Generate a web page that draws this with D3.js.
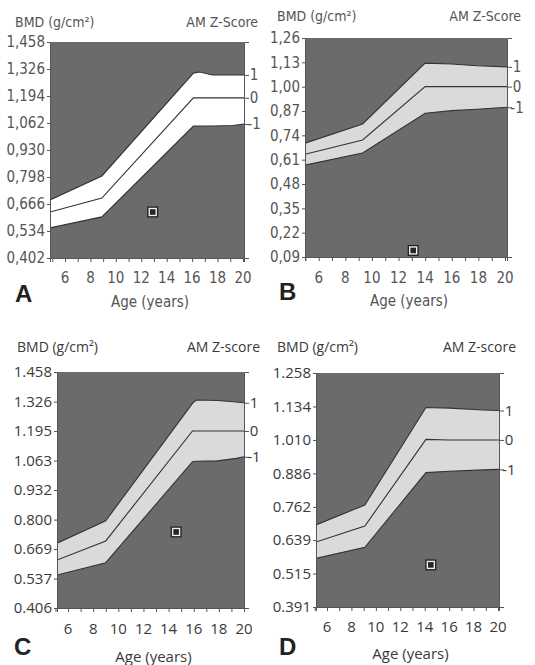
<!DOCTYPE html>
<html>
<head>
<meta charset="utf-8">
<script src="https://cdn.jsdelivr.net/npm/d3@7"></script>
<style>
  body { margin: 0; background: #fff; }
</style>
</head>
<body>
<div id="chart"></div>
<script>
// ---- data ----
var agesA  = [4.82, 8.9, 16.1, 16.6, 17.6, 19.2, 20.08];
var plusA  = [0.686, 0.803, 1.306, 1.311, 1.297, 1.297, 1.297];
var meanA  = [0.627, 0.695, 1.185, 1.185, 1.185, 1.185, 1.185];
var minusA = [0.549, 0.603, 1.047, 1.047, 1.047, 1.050, 1.057];
var yTicksA = [0.402, 0.534, 0.666, 0.798, 0.930, 1.062, 1.194, 1.326, 1.458];
var patientA = [12.9, 0.627];

var agesB  = [4.97, 9.3, 14.0, 16.0, 17.9, 20.15];
var plusB  = [0.698, 0.801, 1.126, 1.121, 1.112, 1.106];
var meanB  = [0.639, 0.715, 1.000, 1.000, 1.000, 1.000];
var minusB = [0.581, 0.646, 0.858, 0.872, 0.879, 0.890];
var yTicksB = [0.09, 0.22, 0.35, 0.48, 0.61, 0.74, 0.87, 1.00, 1.13, 1.26];
var patientB = [13.1, 0.125];

var agesC  = [5.12, 9.0, 15.9, 16.2, 17.9, 19.4, 20.0];
var plusC  = [0.695, 0.795, 1.318, 1.333, 1.331, 1.324, 1.321];
var meanC  = [0.620, 0.705, 1.195, 1.195, 1.195, 1.195, 1.195];
var minusC = [0.553, 0.608, 1.058, 1.060, 1.062, 1.073, 1.080];
var yTicksC = [0.406, 0.537, 0.669, 0.800, 0.932, 1.063, 1.195, 1.326, 1.458];
var patientC = [14.6, 0.745];

var agesD  = [5.1, 9.1, 14.1, 16.0, 18.8, 20.08];
var plusD  = [0.695, 0.769, 1.130, 1.128, 1.121, 1.119];
var meanD  = [0.632, 0.691, 1.012, 1.010, 1.010, 1.010];
var minusD = [0.571, 0.612, 0.889, 0.894, 0.899, 0.901];
var yTicksD = [0.391, 0.515, 0.639, 0.762, 0.886, 1.010, 1.134, 1.258];
var patientD = [14.5, 0.547];

var xTicks = [6, 8, 10, 12, 14, 16, 18, 20];
var zLabels = ["1", "0", "-1"];

// ---- styles ----
var oldFont = "'DejaVu Sans Condensed', 'Liberation Sans Narrow', sans-serif";
var newFont = "'Open Sans', 'Noto Sans', sans-serif";
var bgColor = "#6b6b6b";
var lineColor = "#333";

var commaFmt = function(n){ return function(d){ return d3.format("." + n + "f")(d).replace(".", ","); }; };

var panels = [
  { name: "A", ages: agesA, plus: plusA, mean: meanA, minus: minusA, yTicks: yTicksA, patient: patientA,
    xDomain: [4.82, 20.08], yDomain: [0.402, 1.458], left: 50, right: 244, top: 42, bottom: 258,
    band: "#ffffff", font: oldFont, fmt: commaFmt(3), titleY: 27, letterX: 15, letterY: 302,
    tickY: 283, axisLabelY: 307, title2: "AM Z-Score", title1X: 15, title2X: 258, textColor: "#555" },
  { name: "B", ages: agesB, plus: plusB, mean: meanB, minus: minusB, yTicks: yTicksB, patient: patientB,
    xDomain: [4.97, 20.15], yDomain: [0.09, 1.26], left: 305, right: 507, top: 38, bottom: 257,
    band: "#dadada", font: oldFont, fmt: commaFmt(2), titleY: 21, letterX: 279, letterY: 300,
    tickY: 283, axisLabelY: 306, title2: "AM Z-Score", title1X: 277, title2X: 521, textColor: "#555" },
  { name: "C", ages: agesC, plus: plusC, mean: meanC, minus: minusC, yTicks: yTicksC, patient: patientC,
    xDomain: [5.12, 20.0], yDomain: [0.406, 1.458], left: 57, right: 244, top: 372, bottom: 608,
    band: "#dadada", font: newFont, fmt: d3.format(".3f"), titleY: 352, letterX: 14, letterY: 655,
    tickY: 634, axisLabelY: 662, title2: "AM Z-score", title1X: 17, title2X: 260, textColor: "#3a3a3a" },
  { name: "D", ages: agesD, plus: plusD, mean: meanD, minus: minusD, yTicks: yTicksD, patient: patientD,
    xDomain: [5.1, 20.08], yDomain: [0.391, 1.258], left: 316, right: 499, top: 373, bottom: 607,
    band: "#dadada", font: newFont, fmt: d3.format(".3f"), titleY: 352, letterX: 279, letterY: 655,
    tickY: 632, axisLabelY: 659, title2: "AM Z-score", title1X: 277, title2X: 516, textColor: "#3a3a3a" }
];

var svg = d3.select("#chart")
            .append("svg")
            .attr("width", 535)
            .attr("height", 665);

panels.forEach(drawPanel);

function drawPanel(p) {
  var x = d3.scaleLinear().domain(p.xDomain).range([p.left, p.right]);
  var y = d3.scaleLinear().domain(p.yDomain).range([p.bottom, p.top]);
  var g = svg.append("g");
  var idx = d3.range(p.ages.length);

  g.append("clipPath").attr("id", "clip" + p.name)
    .append("rect")
    .attr("x", p.left).attr("y", p.top)
    .attr("width", p.right - p.left).attr("height", p.bottom - p.top);

  g.append("rect")
    .attr("x", p.left).attr("y", p.top)
    .attr("width", p.right - p.left).attr("height", p.bottom - p.top)
    .attr("fill", bgColor);

  var plot = g.append("g").attr("clip-path", "url(#clip" + p.name + ")");

  // reference band (+1 .. -1)
  var band = d3.area()
    .x(function(i){ return x(p.ages[i]); })
    .y0(function(i){ return y(p.minus[i]); })
    .y1(function(i){ return y(p.plus[i]); });
  plot.append("path").datum(idx).attr("d", band).attr("fill", p.band);

  [p.plus, p.mean, p.minus].forEach(function(vals){
    var line = d3.line()
      .x(function(i){ return x(p.ages[i]); })
      .y(function(i){ return y(vals[i]); });
    plot.append("path").datum(idx).attr("d", line)
      .attr("fill", "none").attr("stroke", lineColor).attr("stroke-width", 1.1);
  });

  // patient marker
  var px = x(p.patient[0]), py = y(p.patient[1]);
  g.append("rect").attr("x", px - 5.5).attr("y", py - 5.5).attr("width", 11).attr("height", 11)
    .attr("fill", "#1e1e1e");
  g.append("rect").attr("x", px - 3.5).attr("y", py - 3.5).attr("width", 7).attr("height", 7)
    .attr("fill", "#262626").attr("stroke", "#eeeeee").attr("stroke-width", 1.4);

  // axes
  var yAxis = g.append("g")
    .attr("transform", "translate(" + p.left + ",0)")
    .call(d3.axisLeft(y).tickValues(p.yTicks).tickFormat(p.fmt).tickSize(3).tickPadding(2));

  var xAxis = g.append("g")
    .attr("transform", "translate(0," + p.bottom + ")")
    .call(d3.axisBottom(x).tickValues(d3.range(5, 21)).tickSize(4).tickFormat(""));

  var last = p.ages.length - 1;
  var zAxis = g.append("g")
    .attr("transform", "translate(" + p.right + ",0)")
    .call(d3.axisRight(y)
      .tickValues([p.plus[last], p.mean[last], p.minus[last]])
      .tickFormat(function(d, i){ return zLabels[i]; })
      .tickSize(5).tickPadding(2));

  [yAxis, xAxis, zAxis].forEach(function(a){
    a.attr("font-family", p.font).attr("font-size", 15);
    a.selectAll("line").attr("stroke", "#555");
    a.select(".domain").attr("stroke", "#555");
    a.selectAll("text").attr("fill", p.textColor);
  });
  zAxis.selectAll("text").attr("text-anchor", "middle").attr("x", 10);

  // x tick labels
  g.selectAll(".xlab")
    .data(xTicks)
    .enter()
    .append("text")
    .attr("x", function(d){ return x(d); })
    .attr("y", p.tickY)
    .attr("text-anchor", "middle")
    .attr("font-family", p.font).attr("font-size", 15)
    .attr("fill", p.textColor)
    .text(function(d){ return d; });

  // titles
  g.append("text").attr("x", p.title1X).attr("y", p.titleY)
    .attr("font-family", p.font).attr("font-size", 14).attr("fill", p.textColor)
    .text("BMD (g/cm²)");
  g.append("text").attr("x", p.title2X).attr("y", p.titleY).attr("text-anchor", "end")
    .attr("font-family", p.font).attr("font-size", 14).attr("fill", p.textColor)
    .text(p.title2);

  g.append("text").attr("x", (p.left + p.right) / 2 + 3).attr("y", p.axisLabelY)
    .attr("text-anchor", "middle")
    .attr("font-family", p.font).attr("font-size", 15).attr("fill", p.textColor)
    .text("Age (years)");

  g.append("text").attr("x", p.letterX).attr("y", p.letterY)
    .attr("font-family", "'Liberation Sans', Arial, sans-serif")
    .attr("font-weight", "bold").attr("font-size", 24).attr("fill", "#222")
    .text(p.name);
}
</script>
</body>
</html>
